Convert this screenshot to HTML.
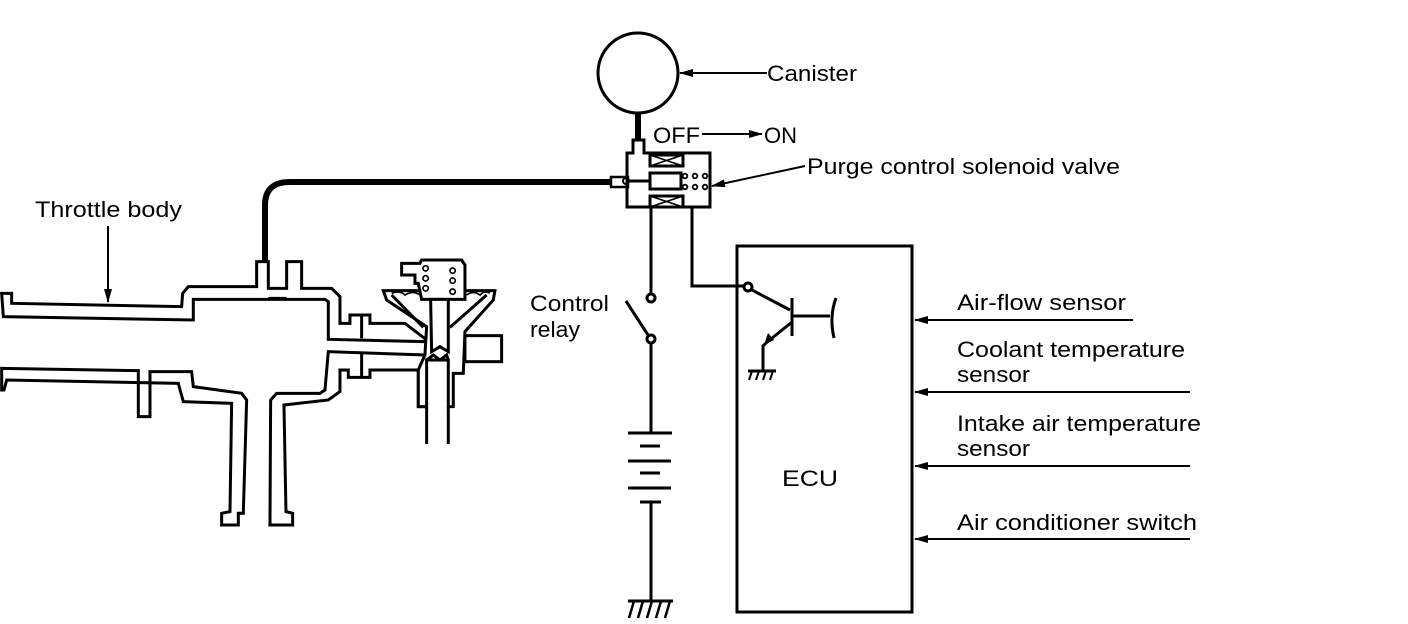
<!DOCTYPE html>
<html><head><meta charset="utf-8"><style>
html,body{margin:0;padding:0;background:#fff;}
svg{display:block;}
text{font-family:"Liberation Sans",sans-serif;font-size:22px;fill:#000;}
</style></head><body>
<svg width="1408" height="624" viewBox="0 0 1408 624" xmlns="http://www.w3.org/2000/svg">
<defs>
<marker id="ah2" markerWidth="14" markerHeight="8" refX="13" refY="4" orient="auto" markerUnits="userSpaceOnUse">
<path d="M0,0 L14,4 L0,8 z" fill="#000"/></marker>
</defs>

<g transform="translate(0,240) scale(0.3333)" fill="#fff" stroke="#000" stroke-width="9" stroke-linejoin="miter">
<polygon points="5,160 35,160 35,190 545,200 548,160 565,140 770,140 770,65 805,65 805,145 860,145 860,65 905,65 905,145 995,145 1020,170 1020,250 1050,250 1050,225 1110,225 1110,250 1215,250 1280,300 1280,305 985,298 985,185 975,178 580,178 580,240 10,230"/>
<line x1="805" y1="175" x2="860" y2="175"/>
<polygon points="5,385 415,392 415,530 450,530 450,395 575,395 580,440 725,460 740,480 730,820 715,820 715,855 665,855 665,820 690,815 695,490 550,485 535,430 20,420 12,450 5,450"/>
<polygon points="810,855 878,855 878,820 858,815 852,495 985,480 1020,455 1020,390 1045,390 1045,412 1110,412 1110,390 1255,390 1255,500 1275,500 1275,345 985,335 975,450 960,460 830,460 812,480"/>
<line x1="1085" y1="225" x2="1085" y2="295"/>
<line x1="1085" y1="338" x2="1085" y2="410"/>
<rect x="1395" y="287" width="110" height="78"/>
<polygon points="1150,152 1485,152 1480,180 1395,275 1390,400 1360,400 1360,500 1345,500 1345,360 1280,360 1280,500 1255,500 1255,390 1275,345 1280,260 1160,180"/>
<path d="M1175,165 L1270,262 M1460,165 L1350,262" fill="none"/>
<path d="M1175,160 Q1200,150 1215,165 Q1240,150 1260,165 M1400,165 Q1420,150 1440,165 Q1455,150 1470,160" fill="none" stroke-width="5"/>
<polygon points="1205,70 1260,70 1265,60 1385,60 1395,75 1395,130 1395,178 1265,178 1255,130 1245,130 1245,105 1205,105"/>
<g stroke-width="5"><circle cx="1277" cy="85" r="8"/><circle cx="1277" cy="115" r="8"/><circle cx="1277" cy="145" r="8"/><circle cx="1358" cy="92" r="8"/><circle cx="1358" cy="122" r="8"/><circle cx="1358" cy="155" r="8"/></g>
<polygon points="1292,178 1345,178 1345,335 1320,320 1295,335"/>
<path d="M1280,360 L1300,345 L1320,360 L1340,345 L1345,360" fill="none"/>
<line x1="1280" y1="500" x2="1280" y2="612"/>
<line x1="1345" y1="500" x2="1345" y2="612"/>
</g>

<path d="M265,262 L265,205 Q265,182 290,182 L612,182" fill="none" stroke="#000" stroke-width="6"/>

<text x="35" y="217" textLength="147" lengthAdjust="spacingAndGlyphs">Throttle body</text>
<line x1="108" y1="226" x2="108" y2="302" stroke="#000" stroke-width="2" marker-end="url(#ah2)"/>

<circle cx="638" cy="73" r="40" fill="none" stroke="#000" stroke-width="3"/>
<line x1="638" y1="113" x2="638" y2="140" stroke="#000" stroke-width="6"/>
<text x="767" y="81" textLength="90" lengthAdjust="spacingAndGlyphs">Canister</text>
<line x1="767" y1="73" x2="680" y2="73" stroke="#000" stroke-width="2" marker-end="url(#ah2)"/>
<text x="653" y="143" textLength="47" lengthAdjust="spacingAndGlyphs">OFF</text>
<line x1="702" y1="134" x2="762" y2="134" stroke="#000" stroke-width="2" marker-end="url(#ah2)"/>
<text x="764" y="143">ON</text>

<g fill="none" stroke="#000" stroke-width="3">
<path d="M633,140 L644,140 L644,153 L710,153 L710,207 L627,207 L627,153 L633,153 Z"/>
<rect x="650" y="155" width="33" height="11"/>
<path d="M650,155 L683,166 M650,166 L683,155" stroke-width="1.5"/>
<rect x="650" y="196" width="33" height="11"/>
<path d="M650,196 L683,207 M650,207 L683,196" stroke-width="1.5"/>
<rect x="650" y="173" width="31" height="16"/>
<line x1="628" y1="181" x2="650" y2="181"/>
<rect x="611" y="177" width="17" height="10" stroke-width="2.5"/>
<circle cx="626" cy="181" r="3" stroke-width="2"/>
<g stroke-width="1.8"><circle cx="685" cy="176" r="2.3"/><circle cx="695" cy="176" r="2.3"/><circle cx="705" cy="176" r="2.3"/><circle cx="685" cy="187" r="2.3"/><circle cx="695" cy="187" r="2.3"/><circle cx="705" cy="187" r="2.3"/></g>
</g>
<text x="807" y="174" textLength="313" lengthAdjust="spacingAndGlyphs">Purge control solenoid valve</text>
<line x1="805" y1="166" x2="712" y2="186" stroke="#000" stroke-width="2" marker-end="url(#ah2)"/>

<g fill="none" stroke="#000" stroke-width="3">
<line x1="651" y1="207" x2="651" y2="294"/>
<circle cx="651" cy="298" r="4"/>
<line x1="626" y1="301" x2="648" y2="335"/>
<circle cx="651" cy="339" r="4"/>
<line x1="651" y1="343" x2="651" y2="433"/>
<line x1="628" y1="433" x2="672" y2="433"/>
<line x1="640" y1="446" x2="660" y2="446"/>
<line x1="628" y1="461" x2="671" y2="461"/>
<line x1="640" y1="473" x2="660" y2="473"/>
<line x1="628" y1="488" x2="671" y2="488"/>
<line x1="640" y1="502" x2="661" y2="502"/>
<line x1="651" y1="502" x2="651" y2="601"/>
<line x1="628" y1="601" x2="673" y2="601"/>
<path d="M634,601 L629,618 M643,601 L638,618 M652,601 L647,618 M661,601 L656,618 M670,601 L665,618" stroke-width="2.5"/>
<polyline points="692,207 692,286 744,286"/>
<circle cx="748" cy="287" r="4"/>
<line x1="752" y1="290" x2="790" y2="310"/>
<line x1="792" y1="298" x2="792" y2="336"/>
<line x1="792" y1="316" x2="830" y2="316"/>
<path d="M836,298 Q829,317 834,338"/>
<line x1="792" y1="322" x2="766" y2="343"/>
<polyline points="766,343 763,346 763,371"/>
<line x1="748" y1="371" x2="776" y2="371"/>
<path d="M752,371 L749,380 M759,371 L756,380 M766,371 L763,380 M773,371 L770,380" stroke-width="2"/>
<rect x="737" y="246" width="175" height="366"/>
</g>
<path d="M764,345 L768,333 L774,340 Z" fill="#000"/>
<text x="530" y="311" textLength="79" lengthAdjust="spacingAndGlyphs">Control</text>
<text x="530" y="337" textLength="50" lengthAdjust="spacingAndGlyphs">relay</text>
<text x="782" y="486" textLength="56" lengthAdjust="spacingAndGlyphs">ECU</text>

<g stroke="#000" stroke-width="2">
<line x1="1133" y1="320" x2="915" y2="320" marker-end="url(#ah2)"/>
<line x1="1190" y1="392" x2="915" y2="392" marker-end="url(#ah2)"/>
<line x1="1190" y1="466" x2="915" y2="466" marker-end="url(#ah2)"/>
<line x1="1190" y1="539" x2="915" y2="539" marker-end="url(#ah2)"/>
</g>
<text x="957" y="310" textLength="169" lengthAdjust="spacingAndGlyphs">Air-flow sensor</text>
<text x="957" y="357" textLength="228" lengthAdjust="spacingAndGlyphs">Coolant temperature</text>
<text x="957" y="382" textLength="73" lengthAdjust="spacingAndGlyphs">sensor</text>
<text x="957" y="431" textLength="244" lengthAdjust="spacingAndGlyphs">Intake air temperature</text>
<text x="957" y="456" textLength="73" lengthAdjust="spacingAndGlyphs">sensor</text>
<text x="957" y="530" textLength="240" lengthAdjust="spacingAndGlyphs">Air conditioner switch</text>
</svg>
</body></html>
